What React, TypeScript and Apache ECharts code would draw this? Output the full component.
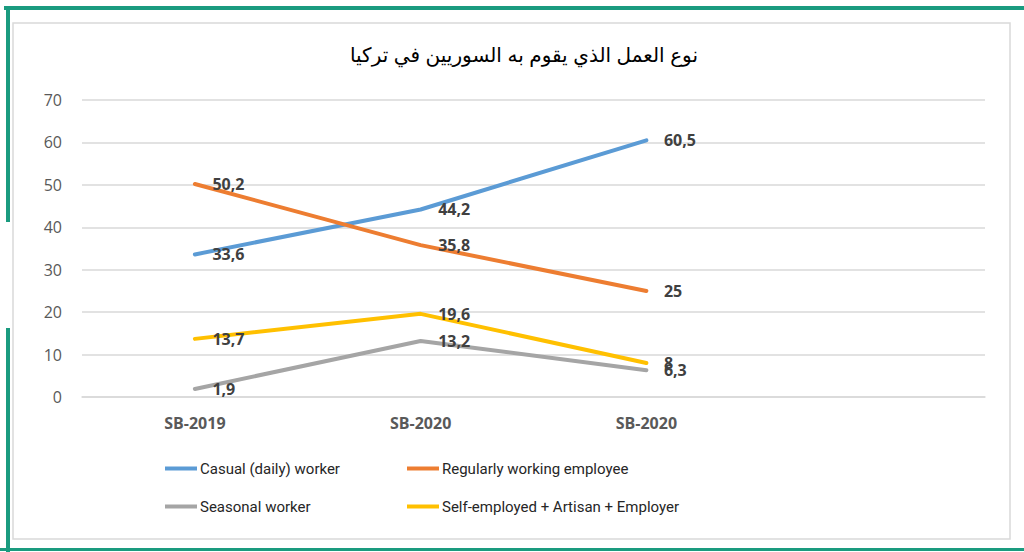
import React, { useEffect, useRef } from "react";
import * as echarts from "echarts";

const title = "نوع العمل الذي يقوم به السوريين في تركيا";
const categories = ["SB-2019", "SB-2020", "SB-2020", ""];
const seriesNames = [
  "Casual (daily) worker",
  "Regularly working employee",
  "Seasonal worker",
  "Self-employed + Artisan + Employer",
];
const casual = [33.6, 44.2, 60.5];
const regular = [50.2, 35.8, 25];
const seasonal = [1.9, 13.2, 6.3];
const selfEmployed = [13.7, 19.6, 8];
const colors = ["#5B9BD5", "#ED7D31", "#A5A5A5", "#FFC000"];
const yTicks = { min: 0, max: 70, interval: 10 };

const GREEN = "#1a9b7f";

export default function App() {
  const ref = useRef<HTMLDivElement>(null);
  useEffect(() => {
    if (!ref.current) return;
    const chart = echarts.init(ref.current, undefined, { renderer: "svg" });
    const values = [casual, regular, seasonal, selfEmployed];
    const legendPos = [
      { left: 165, top: 461 },
      { left: 407, top: 461 },
      { left: 165, top: 499 },
      { left: 407, top: 499 },
    ];
    chart.setOption({
      animation: false,
      backgroundColor: "#ffffff",
      title: {
        text: title,
        left: 519,
        textAlign: "center",
        top: 40,
        textStyle: {
          fontFamily: "Liberation Sans, DejaVu Sans, sans-serif",
          fontSize: 20,
          fontWeight: "normal",
          color: "#000000",
        },
      },
      graphic: [
        {
          type: "rect",
          shape: { x: 13, y: 23, width: 997, height: 516 },
          style: { fill: "#ffffff", stroke: "#d9d9d9", lineWidth: 1.5 },
          z: -10,
        },
        { type: "rect", shape: { x: 4, y: 6, width: 1020, height: 4 }, style: { fill: GREEN } },
        { type: "rect", shape: { x: 6, y: 6, width: 4, height: 216 }, style: { fill: GREEN } },
        { type: "rect", shape: { x: 6, y: 328, width: 4, height: 224 }, style: { fill: GREEN } },
        { type: "rect", shape: { x: 0, y: 548, width: 1024, height: 3 }, style: { fill: GREEN } },
      ],
      legend: seriesNames.map((n, i) => ({
        data: [n],
        left: legendPos[i].left,
        top: legendPos[i].top,
        padding: 0,
        icon: "path://M0,0 L32,0 L32,4 L0,4 Z",
        itemWidth: 32,
        itemHeight: 4,
        itemGap: 4,
        itemStyle: { color: colors[i], borderWidth: 0 },
        textStyle: {
          fontFamily: "Roboto, Liberation Sans, sans-serif",
          fontSize: 15,
          color: "#262626",
          padding: [0, 0, 0, -2],
        },
        selectedMode: false,
      })),
      grid: { left: 82, right: 39, top: 100, bottom: 155, containLabel: false },
      xAxis: {
        type: "category",
        data: categories,
        boundaryGap: true,
        axisLine: { show: true, lineStyle: { color: "#d9d9d9", width: 1.5 } },
        axisTick: { show: false },
        axisLabel: {
          color: "#595959",
          fontWeight: "bold",
          fontFamily: "Open Sans, Liberation Sans, sans-serif",
          fontSize: 16,
          margin: 18,
        },
      },
      yAxis: {
        type: "value",
        min: yTicks.min,
        max: yTicks.max,
        interval: yTicks.interval,
        axisLine: { show: false },
        axisTick: { show: false },
        splitLine: { lineStyle: { color: "#d9d9d9", width: 1.5 } },
        axisLabel: {
          color: "#595959",
          fontFamily: "Open Sans, Liberation Sans, sans-serif",
          fontSize: 16,
          margin: 20,
        },
      },
      series: seriesNames.map((n, i) => ({
        name: n,
        type: "line",
        data: values[i],
        showSymbol: true,
        symbol: "circle",
        symbolSize: 1,
        lineStyle: { color: colors[i], width: 4, cap: "round", join: "round" },
        itemStyle: { color: "rgba(0,0,0,0)", borderWidth: 0 },
        label: {
          show: true,
          position: "right",
          distance: 17,
          offset: [0, 7],
          fontFamily: "Open Sans, Liberation Sans, sans-serif",
          fontWeight: "bold",
          fontSize: 16,
          color: "#404040",
          formatter: (p: any) => String(p.value).replace(".", ","),
        },
        labelLayout: { hideOverlap: false },
      })),
    });
    return () => chart.dispose();
  }, []);
  return (
    <div
      ref={ref}
      style={{ position: "fixed", left: 0, top: 0, width: 1024, height: 552 }}
    />
  );
}
